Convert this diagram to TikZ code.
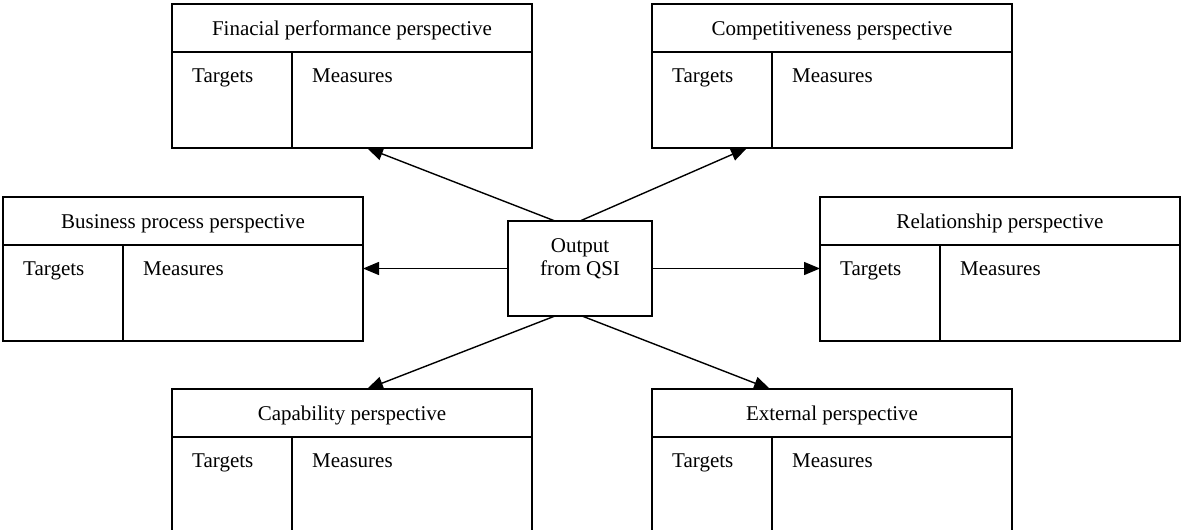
\documentclass[tikz,border=0pt]{standalone}
\usepackage{fontspec}
\setmainfont{Liberation Serif}
\usetikzlibrary{arrows.meta}
\newcommand\perspbox[4]{%
  \node[pbox, anchor=north west] (#1) at (#2,#3) {};
  \draw[ln] ([yshift=-48pt]#1.north west) -- ([yshift=-48pt]#1.north east);
  \draw[ln] ([xshift=120pt,yshift=-48pt]#1.north west) -- ([xshift=120pt]#1.south west);
  \node[lbl, anchor=base] (#1-t) at ([yshift=-31pt]#1.north) {#4};
  \node[lbl, anchor=base west] (#1-tg) at ([xshift=20pt,yshift=-78pt]#1.north west) {Targets};
  \node[lbl, anchor=base west] (#1-ms) at ([xshift=140pt,yshift=-78pt]#1.north west) {Measures};
}
\begin{document}
\begin{tikzpicture}[x=1pt,y=-1pt,
  ln/.style={line width=1.5pt},
  pbox/.style={draw, line width=1.5pt, minimum width=360pt, minimum height=144pt, inner sep=0pt, outer sep=0pt},
  lbl/.style={inner sep=0pt, font=\fontsize{21}{23}\selectfont},
  cbox/.style={draw, line width=1.5pt, minimum width=144pt, minimum height=95pt, inner sep=0pt, outer sep=0pt},
  arr/.style={line width=1.4pt, -{Triangle[length=16pt,width=13pt]}}]
\useasboundingbox (0,0) rectangle (1181,530);
\perspbox{fin}{172}{4}{Finacial performance perspective}
\perspbox{comp}{652}{4}{Competitiveness perspective}
\perspbox{bus}{3}{197}{Business process perspective}
\perspbox{rel}{820}{197}{Relationship perspective}
\perspbox{cap}{172}{389}{Capability perspective}
\perspbox{ext}{652}{389}{External perspective}
\node[cbox, anchor=north west] (c) at (508,221) {};
\node[lbl, align=center] (ct) at (580,259) {Output\\from QSI};
\draw[arr] ([xshift=47pt]c.north west) -- ([xshift=195pt]fin.south west);
\draw[arr] ([xshift=72pt]c.north west) -- ([xshift=95pt]comp.south west);
\draw[arr] (c.west) -- (c.west -| bus.east);
\draw[arr] (c.east) -- (c.east -| rel.west);
\draw[arr] ([xshift=47pt]c.south west) -- ([xshift=195pt]cap.north west);
\draw[arr] ([xshift=74pt]c.south west) -- ([xshift=118pt]ext.north west);
\end{tikzpicture}
\end{document}
